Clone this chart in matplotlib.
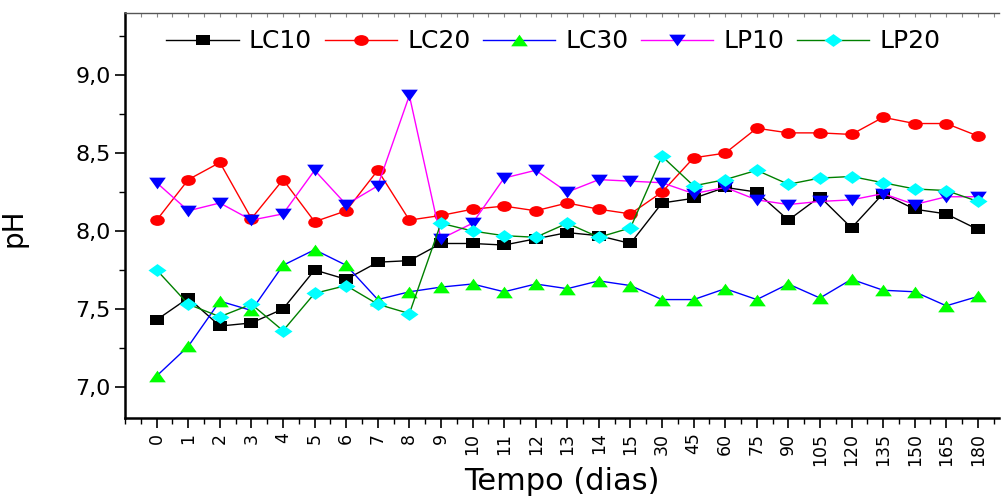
# pH over time for the five treatments
import matplotlib
matplotlib.use("Agg")
import matplotlib.pyplot as plt
import numpy as np
from matplotlib.path import Path
from matplotlib.ticker import MultipleLocator, FuncFormatter

dias = ['0', '1', '2', '3', '4', '5', '6', '7', '8', '9', '10', '11', '12', '13',
        '14', '15', '30', '45', '60', '75', '90', '105', '120', '135', '150', '165', '180']

lc10 = [7.43, 7.57, 7.39, 7.41, 7.50, 7.75, 7.69, 7.80, 7.81, 7.92, 7.92, 7.91, 7.95,
        7.99, 7.97, 7.92, 8.18, 8.21, 8.28, 8.25, 8.07, 8.22, 8.02, 8.24, 8.14, 8.11, 8.01]
lc20 = [8.07, 8.33, 8.44, 8.08, 8.33, 8.06, 8.13, 8.39, 8.07, 8.10, 8.14, 8.16, 8.13,
        8.18, 8.14, 8.11, 8.25, 8.47, 8.50, 8.66, 8.63, 8.63, 8.62, 8.73, 8.69, 8.69, 8.61]
lc30 = [7.07, 7.26, 7.55, 7.49, 7.78, 7.88, 7.78, 7.56, 7.61, 7.64, 7.66, 7.61, 7.66,
        7.63, 7.68, 7.65, 7.56, 7.56, 7.63, 7.56, 7.66, 7.57, 7.69, 7.62, 7.61, 7.52, 7.58]
lp10 = [8.31, 8.13, 8.18, 8.07, 8.11, 8.39, 8.17, 8.29, 8.87, 7.95, 8.05, 8.34, 8.39,
        8.25, 8.33, 8.32, 8.31, 8.24, 8.28, 8.20, 8.17, 8.19, 8.20, 8.24, 8.17, 8.22, 8.22]
lp20 = [7.75, 7.53, 7.45, 7.53, 7.36, 7.60, 7.65, 7.53, 7.47, 8.05, 8.00, 7.97, 7.96,
        8.05, 7.96, 8.02, 8.48, 8.29, 8.33, 8.39, 8.30, 8.34, 8.35, 8.31, 8.27, 8.26, 8.19]


def stretched(verts, sx=1.35):
    # markers in the original look wider than tall
    v = np.array(verts, dtype=float)
    v[:, 0] *= sx
    return Path(v, closed=True)


circ = Path.unit_circle()
ellipse = Path(circ.vertices * np.array([1.35, 1.0]), circ.codes)
square = stretched([(-1, -1), (1, -1), (1, 1), (-1, 1), (-1, -1)], 1.4)
tri_up = stretched([(-1, -0.7), (1, -0.7), (0, 0.7), (-1, -0.7)], 1.0)
tri_dn = stretched([(-1, 0.7), (1, 0.7), (0, -0.7), (-1, 0.7)], 1.0)
diamond = stretched([(0, -1), (1.4, 0), (0, 1), (-1.4, 0), (0, -1)], 1.0)

x = np.arange(len(dias))

fig = plt.figure(figsize=(10.01, 4.97), dpi=100)
ax = fig.add_axes([0.125, 0.159, 0.873, 0.815])

ax.plot(x, lc10, '-', color='black', lw=1, marker=square, ms=9.5,
        mfc='black', mec='black', mew=0, label='LC10')
ax.plot(x, lc20, '-', color='red', lw=1, marker=ellipse, ms=10.5,
        mfc='red', mec='red', mew=0, label='LC20')
ax.plot(x, lc30, '-', color='blue', lw=1, marker=tri_up, ms=12,
        mfc='#00ff00', mec='#00ff00', mew=0, label='LC30')
ax.plot(x, lp10, '-', color='magenta', lw=1, marker=tri_dn, ms=12,
        mfc='blue', mec='blue', mew=0, label='LP10')
ax.plot(x, lp20, '-', color='green', lw=1, marker=diamond, ms=13,
        mfc='cyan', mec='cyan', mew=0, label='LP20')

ax.set_xlim(-1, 26.67)
ax.set_ylim(6.8, 9.4)

ax.set_xticks(x)
ax.set_xticklabels(dias, rotation=90, fontsize=12.5)
ax.xaxis.set_minor_locator(MultipleLocator(0.5))
ax.yaxis.set_major_locator(MultipleLocator(0.5))
ax.yaxis.set_minor_locator(MultipleLocator(0.25))
ax.yaxis.set_major_formatter(FuncFormatter(lambda v, p: ('%.1f' % v).replace('.', ',')))
ax.tick_params(axis='y', labelsize=16)
ax.tick_params(which='major', direction='out', length=7, width=1.2)
ax.tick_params(which='minor', direction='out', length=4, width=1)

for s in ['left', 'bottom']:
    ax.spines[s].set_linewidth(1.8)
ax.spines['right'].set_visible(False)
ax.spines['top'].set_color('#555555')
ax.spines['top'].set_linewidth(1)

top = ax.secondary_xaxis('top')
top.set_xticks(np.arange(-1, 27, 0.5))
top.tick_params(direction='in', length=3, color='#888888', labeltop=False)
top.spines['top'].set_visible(False)

ax.set_ylabel('pH', fontsize=20)
ax.yaxis.set_label_coords(-0.112, 0.47)
ax.set_xlabel('Tempo (dias)', fontsize=22)
ax.xaxis.set_label_coords(0.5, -0.122)

ax.legend(loc='upper center', ncol=5, frameon=False, fontsize=18, numpoints=1,
          handlelength=2.9, handletextpad=0.4, columnspacing=0.5,
          bbox_to_anchor=(0.49, 1.015))

plt.savefig('out.png', dpi=100)
